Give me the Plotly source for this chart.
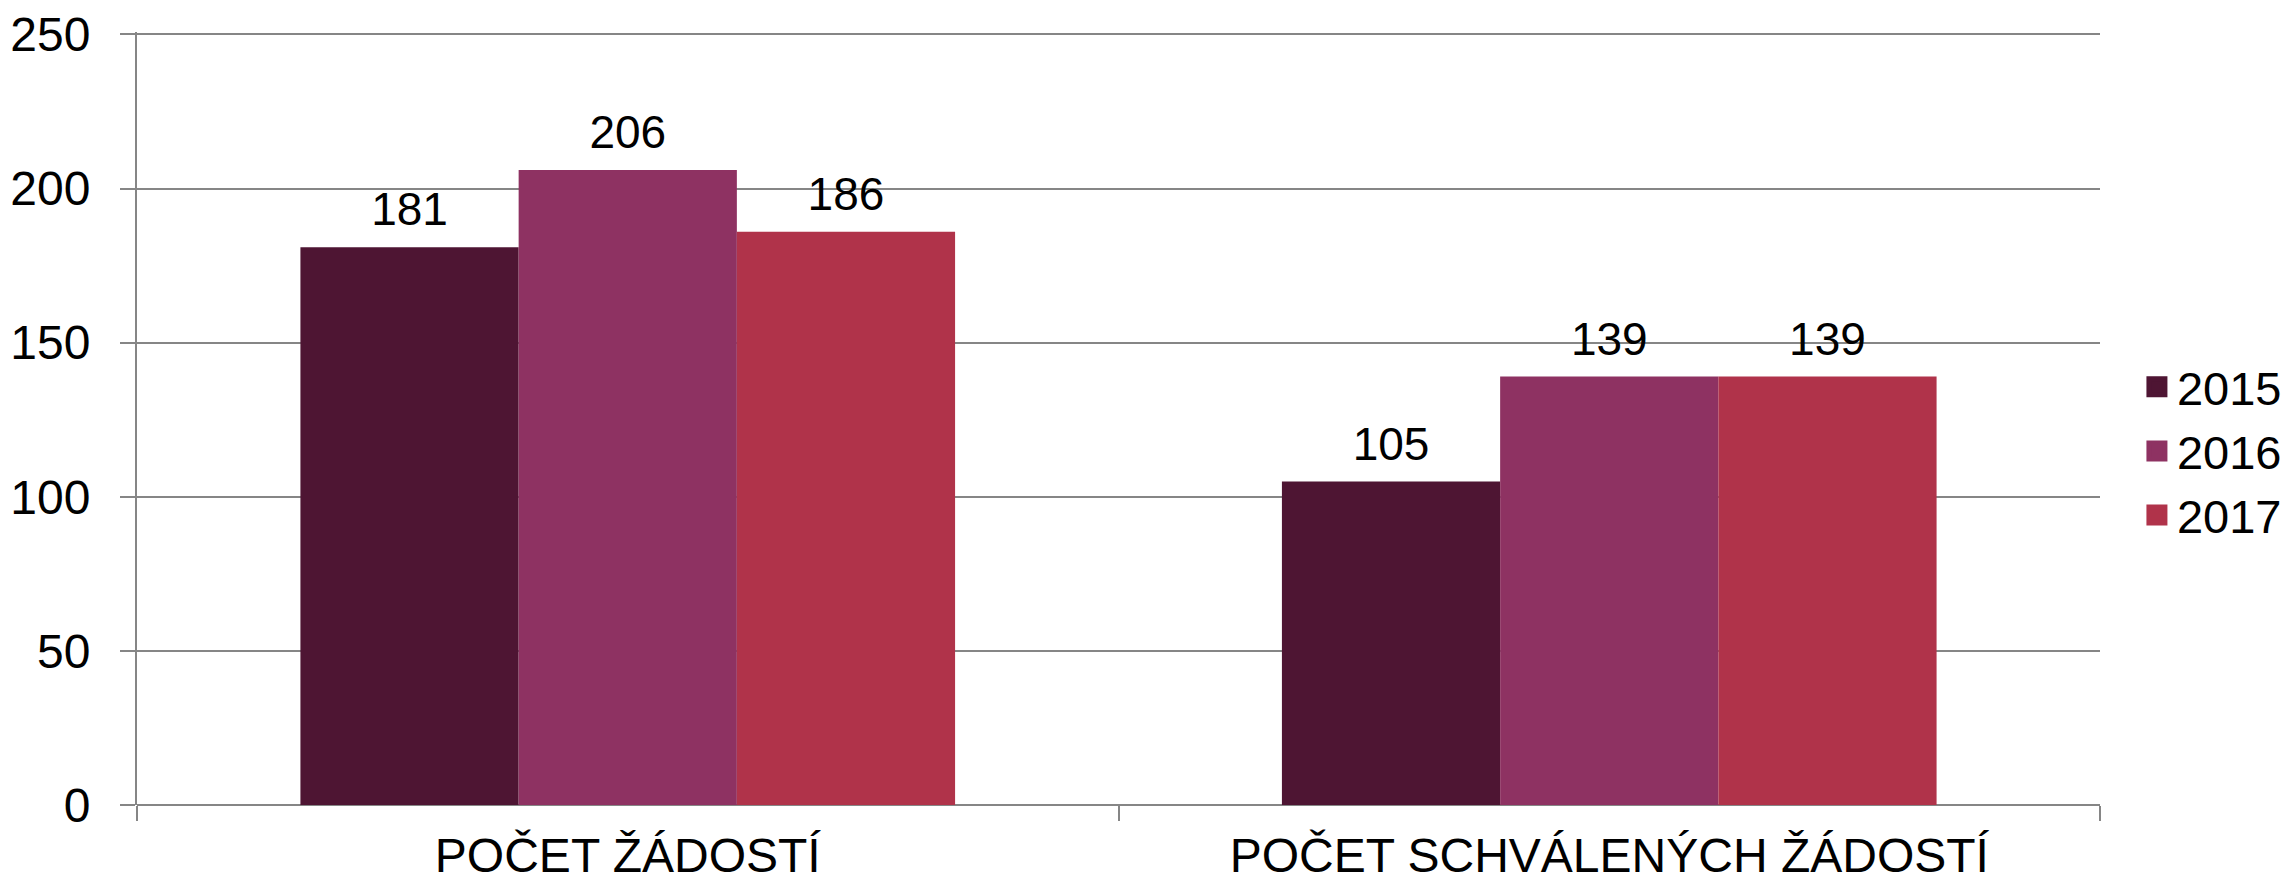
import plotly.graph_objects as go

categories = ["POČET ŽÁDOSTÍ", "POČET SCHVÁLENÝCH ŽÁDOSTÍ"]
years = ["2015", "2016", "2017"]
values = {
    "2015": [181, 105],
    "2016": [206, 139],
    "2017": [186, 139],
}
colors = {"2015": "#4E1533", "2016": "#8E3262", "2017": "#B0334A"}
y_ticks = [0, 50, 100, 150, 200, 250]

FONT = "Liberation Sans, Arial, sans-serif"
GRID = "#868686"
GAP = 0.333

fig = go.Figure()
for yr in years:
    fig.add_trace(go.Bar(
        name=yr, x=categories, y=values[yr],
        marker=dict(color=colors[yr], line=dict(width=0)),
        showlegend=False,
    ))
# value labels, grouped like the bars
for yr in years:
    fig.add_trace(go.Scatter(
        x=categories, y=values[yr], mode="markers+text",
        text=[str(v) for v in values[yr]], textposition="top center",
        textfont=dict(family=FONT, size=46, color="black"),
        marker=dict(size=15, color="rgba(0,0,0,0)"),
        showlegend=False, hoverinfo="skip", cliponaxis=False,
    ))
# legend entries
for yr in years:
    fig.add_trace(go.Scatter(
        name=yr, x=[None], y=[None], mode="markers", xaxis="x2", yaxis="y2",
        marker=dict(symbol="square", size=16, color=colors[yr],
                    line=dict(width=5, color=colors[yr])),
    ))

# page body has an 8px margin, so the figure is 8px smaller than the window
fig.update_layout(
    width=2285, height=876,
    margin=dict(l=129, r=193, t=24, b=79),
    paper_bgcolor="white", plot_bgcolor="white",
    barmode="group", bargap=GAP, bargroupgap=0,
    scattermode="group", scattergap=GAP,
    font=dict(family=FONT, size=48, color="black"),
    legend=dict(xref="container", yref="container", x=0.9317, xanchor="left",
                y=0.494, yanchor="middle", font=dict(size=47), itemwidth=30),
    showlegend=True,
    xaxis2=dict(visible=False, overlaying="x", automargin=False),
    yaxis2=dict(visible=False, overlaying="y", automargin=False),
)
fig.layout.xaxis.update(
    type="category", showline=False, showgrid=False, automargin=False,
    ticks="outside", tickson="boundaries", ticklen=15, tickwidth=2, tickcolor=GRID,
    tickfont=dict(size=48), ticklabelstandoff=18, ticklabeloverflow="allow",
)
fig.layout.yaxis.update(
    range=[0, 250.8], tickmode="array", tickvals=y_ticks,
    showgrid=True, gridcolor=GRID, gridwidth=2,
    showline=True, linecolor=GRID, linewidth=2, automargin=False,
    ticks="outside", ticklen=15, tickwidth=2, tickcolor=GRID,
    tickfont=dict(size=48), zeroline=True, zerolinecolor=GRID, zerolinewidth=2,
    ticklabelstandoff=20, ticklabeloverflow="allow",
)
fig.write_html("out.html")
